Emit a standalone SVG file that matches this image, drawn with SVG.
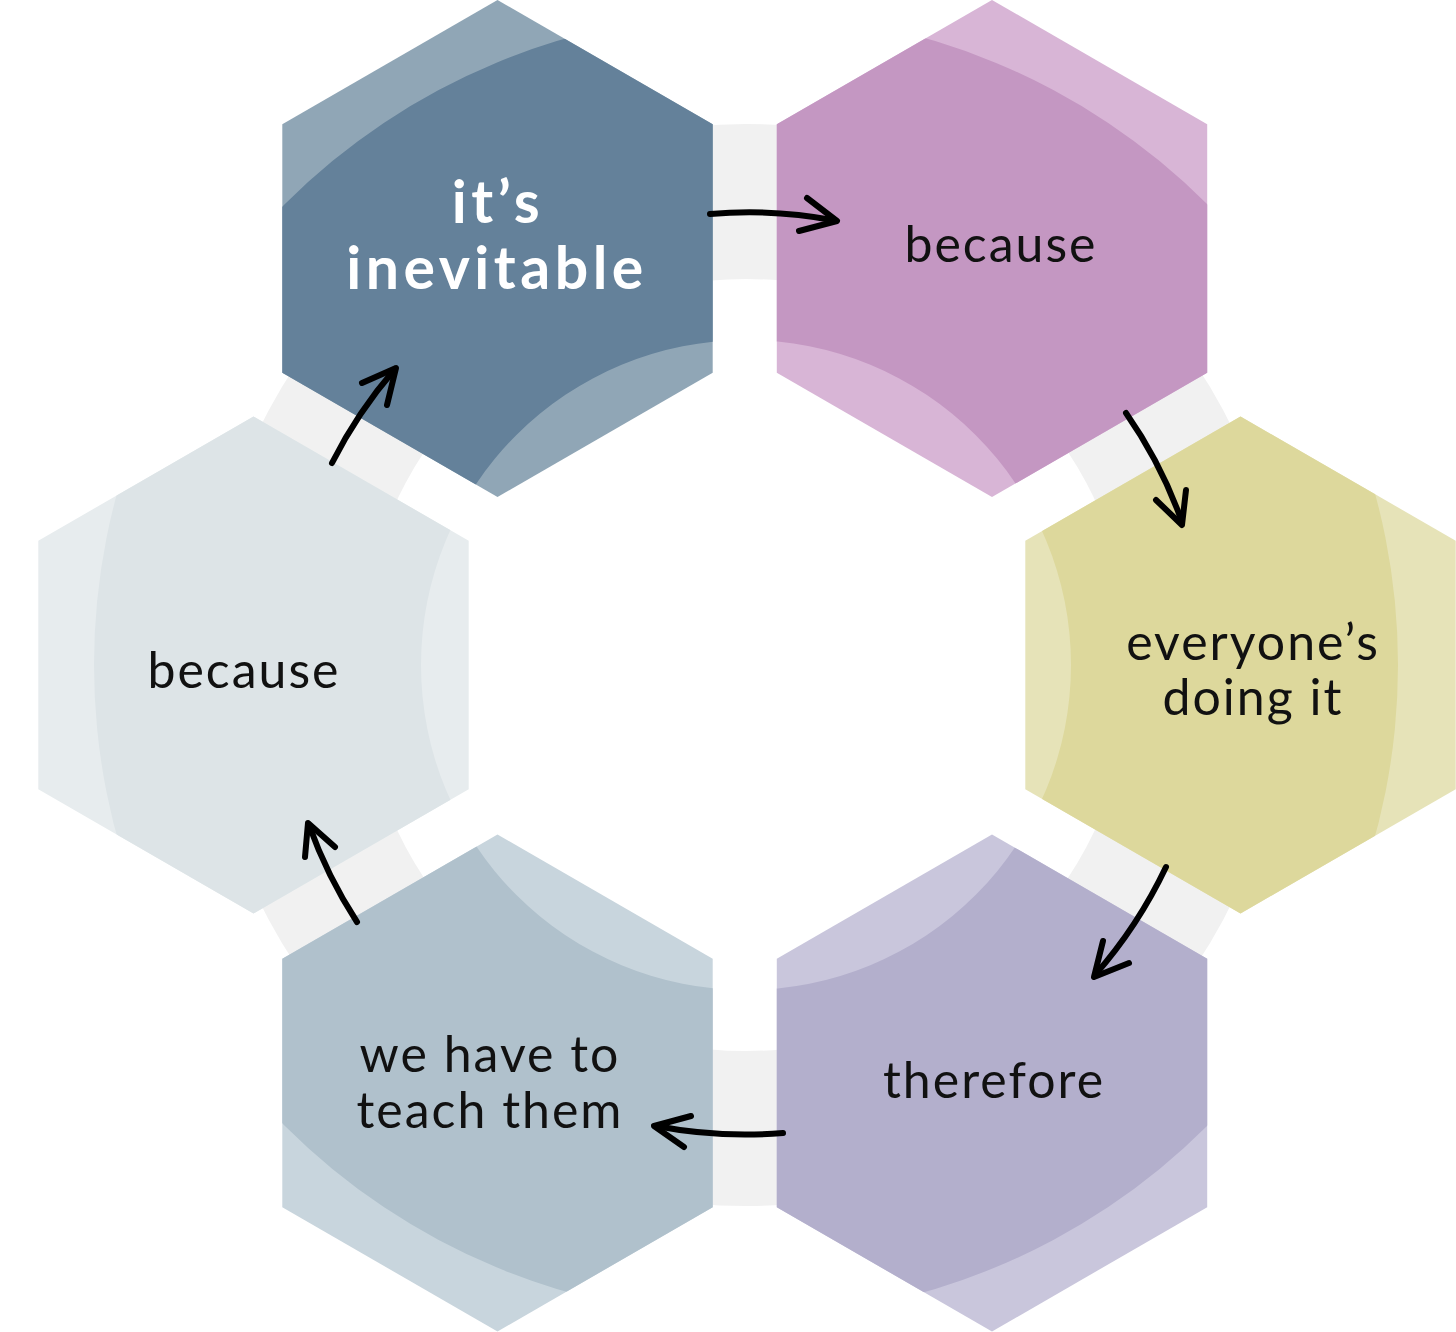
<svg xmlns="http://www.w3.org/2000/svg" width="1456" height="1332" viewBox="0 0 1456 1332">
<style>
.lbl{font-family:Lato,"Noto Sans","DejaVu Sans",sans-serif;font-size:50px;fill:#111;text-anchor:middle;letter-spacing:2px}
.bold{font-family:Lato,"Noto Sans","DejaVu Sans",sans-serif;font-weight:700;font-size:59px;fill:#fff;text-anchor:middle;letter-spacing:4.5px}
.arr{fill:none;stroke:#000;stroke-width:6;stroke-linecap:round;stroke-linejoin:round}
</style>
<defs>
<path id="band" d="M94,665 a652,652 0 1,0 1304,0 a652,652 0 1,0 -1304,0 Z M421,665 a325,325 0 1,0 650,0 a325,325 0 1,0 -650,0 Z" fill-rule="evenodd"/>
<clipPath id="c1"><polygon points="497.5,0 712.7,124.25 712.7,372.75 497.5,497 282.3,372.75 282.3,124.25"/></clipPath>
<clipPath id="c2"><polygon points="992,0 1207.2,124.25 1207.2,372.75 992,497 776.8,372.75 776.8,124.25"/></clipPath>
<clipPath id="c3"><polygon points="1240.5,416.5 1455.7,540.75 1455.7,789.25 1240.5,913.5 1025.3,789.25 1025.3,540.75"/></clipPath>
<clipPath id="c4"><polygon points="992,834.5 1207.2,958.75 1207.2,1207.25 992,1331.5 776.8,1207.25 776.8,958.75"/></clipPath>
<clipPath id="c5"><polygon points="497.5,834.5 712.7,958.75 712.7,1207.25 497.5,1331.5 282.3,1207.25 282.3,958.75"/></clipPath>
<clipPath id="c6"><polygon points="253.5,416.5 468.7,540.75 468.7,789.25 253.5,913.5 38.3,789.25 38.3,540.75"/></clipPath>
</defs>
<rect width="1456" height="1332" fill="#fff"/>
<g id="ring">
<path d="M205,665 a541,541 0 1,0 1082,0 a541,541 0 1,0 -1082,0 Z M360,665 a386,386 0 1,0 772,0 a386,386 0 1,0 -772,0 Z" fill-rule="evenodd" fill="#f1f1f1"/>
</g>
<g id="node-inevitable">
<polygon points="497.5,0 712.7,124.25 712.7,372.75 497.5,497 282.3,372.75 282.3,124.25" fill="#90a6b6"/>
<use href="#band" fill="#64819a" clip-path="url(#c1)"/>
<text class="bold" x="498" y="223">it’s<tspan x="497" dy="66">inevitable</tspan></text>
</g>
<g id="node-because1">
<polygon points="992,0 1207.2,124.25 1207.2,372.75 992,497 776.8,372.75 776.8,124.25" fill="#d8b5d6"/>
<use href="#band" fill="#c497c2" clip-path="url(#c2)"/>
<text class="lbl" x="1001" y="262">because</text>
</g>
<g id="node-everyone">
<polygon points="1240.5,416.5 1455.7,540.75 1455.7,789.25 1240.5,913.5 1025.3,789.25 1025.3,540.75" fill="#e6e3b8"/>
<use href="#band" fill="#ddd89c" clip-path="url(#c3)"/>
<text class="lbl" x="1253" y="660">everyone’s<tspan x="1253" dy="55">doing it</tspan></text>
</g>
<g id="node-therefore">
<polygon points="992,834.5 1207.2,958.75 1207.2,1207.25 992,1331.5 776.8,1207.25 776.8,958.75" fill="#c9c6dc"/>
<use href="#band" fill="#b3afcc" clip-path="url(#c4)"/>
<text class="lbl" x="994" y="1098">therefore</text>
</g>
<g id="node-teach">
<polygon points="497.5,834.5 712.7,958.75 712.7,1207.25 497.5,1331.5 282.3,1207.25 282.3,958.75" fill="#c8d5dd"/>
<use href="#band" fill="#b0c1cc" clip-path="url(#c5)"/>
<text class="lbl" x="490" y="1072">we have to<tspan x="490" dy="56">teach them</tspan></text>
</g>
<g id="node-because2">
<polygon points="253.5,416.5 468.7,540.75 468.7,789.25 253.5,913.5 38.3,789.25 38.3,540.75" fill="#e7ecee"/>
<use href="#band" fill="#dde4e7" clip-path="url(#c6)"/>
<text class="lbl" x="244" y="688">because</text>
</g>
<g id="connectors">
<path class="arr" d="M710,214 A452,452 0 0 1 835,220.5"/>
<polyline class="arr" points="807,198 837,221 799,231"/>
<path class="arr" d="M1126,413 A457,457 0 0 1 1182,522"/>
<polyline class="arr" points="1156,500 1182,525 1186,490"/>
<path class="arr" d="M1166,867 A467,467 0 0 1 1095,975"/>
<polyline class="arr" points="1103,941 1094,977 1129,963"/>
<path class="arr" d="M783,1133 A469,469 0 0 1 656,1126"/>
<polyline class="arr" points="691,1116 654,1126 684,1147"/>
<path class="arr" d="M357,922 A466,466 0 0 1 309,825"/>
<polyline class="arr" points="305,857 308,823 335,847"/>
<path class="arr" d="M332,463 A460,460 0 0 1 395,369"/>
<polyline class="arr" points="362,383 396,368 387,405"/>
</g>
</svg>
